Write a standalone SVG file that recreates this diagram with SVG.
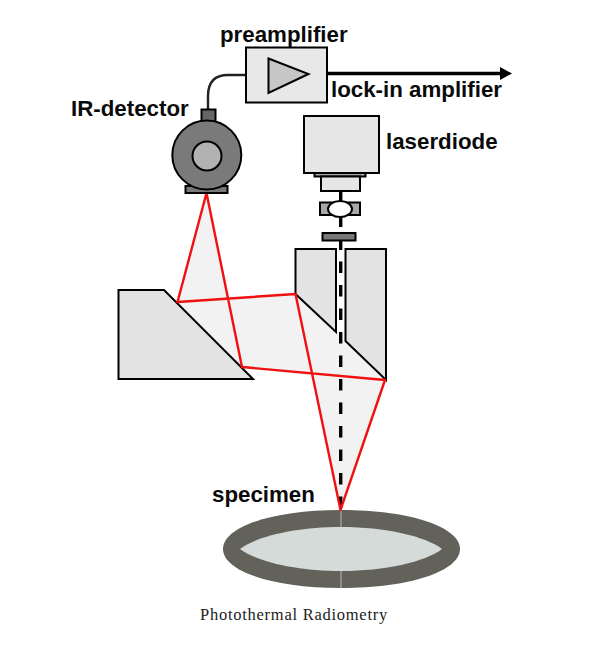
<svg xmlns="http://www.w3.org/2000/svg" width="608" height="646" viewBox="0 0 608 646">
  <style>
    .part { stroke: #000; stroke-width: 2; stroke-linejoin: miter; }
    .light { fill: #e3e3e3; }
    .pale { fill: #e8e8e8; }
    .mid { fill: #c6c6c6; }
    .dark { fill: #6f6f6f; }
    .ray { fill: none; stroke: #f01010; stroke-width: 2.4; stroke-linejoin: round; }
    .beam { fill: #f2f2f2; stroke: none; }
    .axis { fill: none; stroke: #000; stroke-width: 3.4; }
    .label { font-family: "Liberation Sans", Arial, sans-serif; font-weight: 700; font-size: 22.3px; fill: #0a0a0a; }
    .caption { font-family: "Liberation Serif", "Times New Roman", serif; font-size: 16.5px; fill: #222; letter-spacing: 0.74px; }
  </style>
  <defs>
    <marker id="arrowhead" markerUnits="userSpaceOnUse" markerWidth="14" markerHeight="14" refX="0" refY="7" orient="auto">
      <path d="M0 0.5 L12 7 L0 13.5 Z" fill="#000"/>
    </marker>
  </defs>

  <!-- Collected light between the mirrors -->
  <g id="beam-path">
    <path class="beam" d="M206.5 193 L177.5 302 L295.5 294 L336 332 L336 380 L385 380 L340.5 510 L295.5 294 L340 380 L242 367 Z"/>
    <path class="beam" d="M177.5 302 L295.5 294 L385 380 L242 367 Z"/>
    <path class="beam" d="M295.5 294 L385 380 L340.5 510 Z"/>
  </g>

  <g id="specimen">
    <path d="M341 510 C410 510 460 527 460 549 C460 571 410 588 341 588 C272 588 223 571 223 549 C223 527 272 510 341 510 Z" fill="#62625a"/>
    <path d="M341 527 C385 527 425 536 442 549 C425 562 385 571 341 571 C297 571 257 562 240 549 C257 536 297 527 341 527 Z" fill="#d5dbd9"/>
    <path d="M341 510 V527 M341 571 V588" stroke="#b8b8ae" stroke-width="1" fill="none"/>
  </g>

  <g id="left-mirror">
    <path class="part light" d="M118.5 290 H164 L253 379 H118.5 Z"/>
  </g>
  <g id="right-mirror-inner">
    <path class="part light" d="M295.5 249 H336 V332 L295.5 294 Z"/>
  </g>
  <g id="right-mirror-outer">
    <path class="part light" d="M345.5 249 H386 V380 L345.5 341 Z"/>
  </g>

  <g id="connectors">
    <path d="M247 75 H228 C214 75 208 83 208 96 V109" fill="none" stroke="#222" stroke-width="2.4"/>
    <path d="M327 73.5 H500" fill="none" stroke="#000" stroke-width="3.4" marker-end="url(#arrowhead)"/>
    <path class="axis" d="M340.7 191 V203 M340.7 215 V227 M340.7 241 V250"/>
    <path class="axis" d="M340.7 261.5 V510" stroke-dasharray="11.5 12"/>
    <path class="ray" d="M206.5 193 L177.5 302 L295.5 294 L340.5 510 L385 380 L242 367 Z"/>
  </g>

  <g id="preamplifier">
    <rect class="part pale" x="246" y="47.5" width="81" height="55" stroke-width="1.6"/>
    <path class="part mid" d="M268.5 58.5 L308.5 74 L268.5 93 Z"/>
    <text class="label" x="220" y="42">preamplifier</text>
  </g>

  <g id="ir-detector">
    <rect class="part" x="201.5" y="109.5" width="14" height="13" fill="#666"/>
    <rect class="part" x="185.5" y="186" width="42" height="7" fill="#777"/>
    <circle class="part" cx="206.8" cy="155" r="34.5" fill="#7a7a7a"/>
    <circle class="part" cx="207" cy="156" r="14.5" fill="#b2b2b2"/>
    <text class="label" x="71" y="116">IR-detector</text>
  </g>

  <g id="laserdiode">
    <rect class="part" x="304" y="116" width="75" height="57" fill="#e6e6e6"/>
    <rect class="part" x="314.5" y="173" width="51" height="3.5" fill="#a8a8a8"/>
    <rect class="part" x="321" y="176.5" width="39" height="14.5" fill="#e6e6e6"/>
    <text class="label" x="386" y="149">laserdiode</text>
  </g>

  <g id="lens">
    <rect class="part" x="320" y="202.5" width="40" height="12.5" fill="#a8a8a8"/>
    <ellipse class="part" cx="340" cy="209" rx="12" ry="8" fill="#fff"/>
  </g>

  <g id="aperture">
    <rect class="part" x="322.5" y="233" width="33" height="7.5" fill="#777"/>
  </g>

  <text class="label" x="331" y="97">lock-in amplifier</text>
  <text class="label" x="212" y="502">specimen</text>
  <text class="caption" x="200" y="620">Photothermal Radiometry</text>
</svg>
